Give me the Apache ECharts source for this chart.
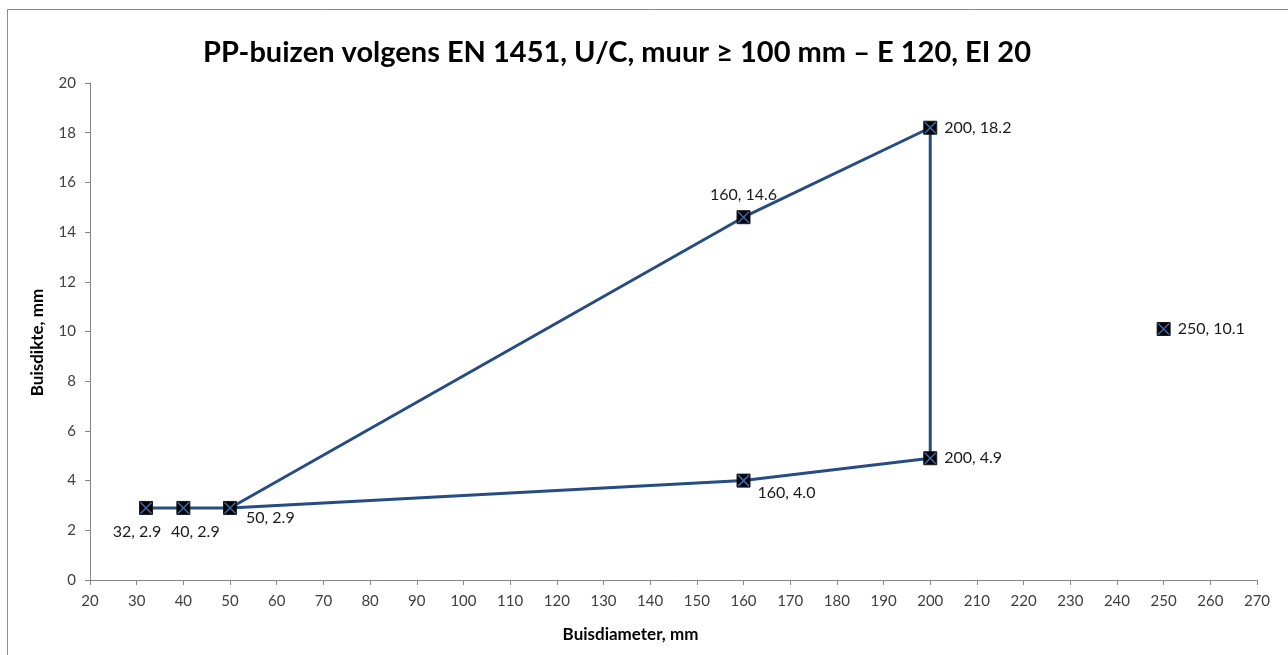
<!DOCTYPE html>
<html>
<head>
<meta charset="utf-8">
<script src="https://cdn.jsdelivr.net/npm/echarts@6/dist/echarts.min.js"></script>
<style>
    html, body { margin: 0; padding: 0; background: #fff; }
    #chart { width: 1288px; height: 655px; }
</style>
</head>
<body>
<div id="chart"></div>
<script>
// polygon drawn by the line (in drawing order)
const lineDiameter = [32, 40, 50, 160, 200, 200, 160, 50];
const lineThickness = [2.9, 2.9, 2.9, 14.6, 18.2, 4.9, 4.0, 2.9];

// labelled points
const pointDiameter = [32, 40, 50, 160, 200, 200, 160, 250];
const pointThickness = [2.9, 2.9, 2.9, 14.6, 18.2, 4.9, 4.0, 10.1];

const xTicks = { min: 20, max: 270, step: 10 };
const yTicks = { min: 0, max: 20, step: 2 };

const labelFont = 'Lato, "Open Sans", sans-serif';

// where each data label sits next to its marker
const labelPlace = [
    { position: 'bottom', offset: [-9, 4] },
    { position: 'bottom', offset: [12, 4] },
    { position: 'right', offset: [4, 10] },
    { position: 'top', offset: [0, -2] },
    { position: 'right', offset: [2, 0] },
    { position: 'right', offset: [2, 0] },
    { position: 'right', offset: [2, 12] },
    { position: 'right', offset: [2, 0] }
];

const lineData = lineDiameter.map((d, i) => [d, lineThickness[i]]);
const pointData = pointDiameter.map((d, i) => ({
    value: [d, pointThickness[i]],
    label: labelPlace[i]
}));

const chart = echarts.init(document.getElementById('chart'));
chart.setOption({
    animation: false,
    title: {
        text: 'PP-buizen volgens EN 1451, U/C, muur ≥ 100 mm – E 120, EI 20',
        left: 612,
        textAlign: 'center',
        top: 33,
        textStyle: { fontFamily: labelFont, fontSize: 29, fontWeight: 'bold', color: '#000' }
    },
    graphic: [{
        type: 'rect',
        shape: { x: 7.5, y: 9.5, width: 1400, height: 800 },
        style: { fill: 'none', stroke: '#8c8c8c', lineWidth: 1 },
        silent: true
    }],
    grid: { left: 90, right: 31, top: 83, bottom: 75 },
    xAxis: {
        type: 'value',
        min: xTicks.min, max: xTicks.max, interval: xTicks.step,
        name: 'Buisdiameter, mm',
        nameLocation: 'middle',
        nameGap: 46,
        nameTextStyle: { fontFamily: labelFont, fontSize: 17, fontWeight: 'bold', color: '#000', padding: [0, 86, 0, 0] },
        axisLine: { lineStyle: { color: '#868686' } },
        axisTick: { lineStyle: { color: '#868686' }, length: 5 },
        axisLabel: { fontFamily: labelFont, fontSize: 15, color: '#404040', margin: 14 },
        splitLine: { show: false }
    },
    yAxis: {
        type: 'value',
        min: yTicks.min, max: yTicks.max, interval: yTicks.step,
        name: 'Buisdikte, mm',
        nameLocation: 'middle',
        nameGap: 44,
        nameTextStyle: { fontFamily: labelFont, fontSize: 17, fontWeight: 'bold', color: '#000', padding: [0, 22, 0, 0] },
        axisLine: { show: true, lineStyle: { color: '#868686' } },
        axisTick: { show: true, lineStyle: { color: '#868686' }, length: 5 },
        axisLabel: { fontFamily: labelFont, fontSize: 15, color: '#404040', margin: 14 },
        splitLine: { show: false }
    },
    series: [
        {
            type: 'line',
            data: lineData,
            showSymbol: false,
            lineStyle: { color: '#254c83', width: 3 },
            z: 2
        },
        {
            type: 'scatter',
            data: pointData,
            symbol: 'rect',
            symbolSize: 13,
            itemStyle: { color: '#000', borderColor: '#1a1a1a', borderWidth: 1, opacity: 1 },
            label: {
                show: true,
                formatter: p => p.value[0] + ', ' + p.value[1].toFixed(1),
                fontFamily: labelFont,
                fontSize: 16,
                color: '#1a1a1a'
            },
            z: 3
        },
        {
            type: 'scatter',
            data: pointData.map(p => p.value),
            symbol: 'path://M0,0L10,10M10,0L0,10',
            symbolSize: 11,
            itemStyle: { color: 'none', borderColor: '#3a6bb0', borderWidth: 1.5, opacity: 1 },
            z: 4
        }
    ]
});
</script>
</body>
</html>
